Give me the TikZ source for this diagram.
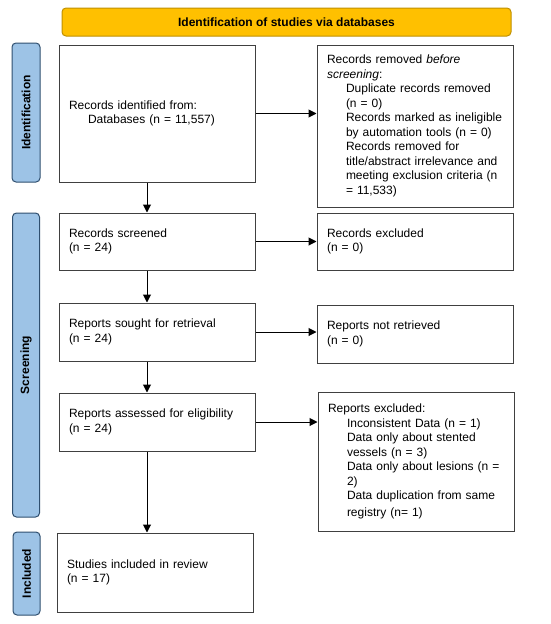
\documentclass[tikz,border=0pt]{standalone}
\usepackage{fontspec}
\setmainfont{Liberation Sans}
\usetikzlibrary{arrows.meta}

\definecolor{bannerfill}{HTML}{FFC000}
\definecolor{bannerline}{HTML}{BF9000}
\definecolor{barfill}{HTML}{9DC3E6}
\definecolor{barline}{HTML}{2F4F6F}
\definecolor{boxline}{HTML}{404040}

\begin{document}
\begin{tikzpicture}[x=1pt, y=-1pt, font=\fontsize{12}{14.5}\selectfont]
        \tikzstyle{box}    = [rectangle, draw=boxline, line width=1pt, minimum width=196pt,
                              text width=176pt, inner xsep=10pt, align=left]
        \tikzstyle{phase}  = [rectangle, rounded corners=4pt, draw=barline, fill=barfill,
                              line width=1pt, inner sep=0pt]
        \tikzstyle{banner} = [rectangle, rounded corners=4pt, draw=bannerline, fill=bannerfill,
                              line width=1pt, minimum width=449pt, minimum height=28pt,
                              font=\fontsize{12}{14.5}\selectfont\bfseries]
        \tikzstyle{arr}    = [-{Triangle[length=8pt, width=8pt]}, line width=1pt, draw=black]
        \useasboundingbox (0,0) rectangle (550,624);

        \node(head)  [banner] at (286.5,22) {Identification of studies via databases};

        \node(idbar) [phase, minimum width=28pt, minimum height=139pt] at (26,112.5)
                     {\rotatebox{90}{\bfseries Identification}};
        \node(scbar) [phase, minimum width=27pt, minimum height=304pt] at (26,365)
                     {\rotatebox{90}{\bfseries Screening}};
        \node(inbar) [phase, minimum width=27pt, minimum height=83pt] at (26.5,573.5)
                     {\rotatebox{90}{\bfseries Included}};

        \node(ident)    [box, minimum height=137pt] at (157,113.5)
                        {Records identified from:\\\hspace*{19pt}Databases (n = 11,557)};
        \node(removed)  [box, minimum height=162pt] at (415,126)
                        {Records removed \emph{before}\\\emph{screening}:\\
                         \hspace*{19pt}Duplicate records removed\\\hspace*{19pt}(n = 0)\\
                         \hspace*{19pt}Records marked as ineligible\\
                         \hspace*{19pt}by automation tools (n = 0)\\
                         \hspace*{19pt}Records removed for\\
                         \hspace*{19pt}title/abstract irrelevance and\\
                         \hspace*{19pt}meeting exclusion criteria (n\\
                         \hspace*{19pt}= 11,533)};
        \node(screened) [box, minimum height=57pt] at (157,241.5) {Records screened\\(n = 24)};
        \node(excluded) [box, minimum height=57pt] at (415,241.5) {Records excluded\\(n = 0)};
        \node(sought)   [box, minimum height=58pt] at (157,332) {Reports sought for retrieval\\(n = 24)};
        \node(notret)   [box, minimum height=58pt] at (415,334) {Reports not retrieved\\(n = 0)};
        \node(assessed) [box, minimum height=58pt] at (157,422) {Reports assessed for eligibility\\(n = 24)};
        \node(repexcl)  [box, minimum height=139pt] at (416,461.5)
                        {Reports excluded:\\
                         \hspace*{19pt}Inconsistent Data (n = 1)\\
                         \hspace*{19pt}Data only about stented\\
                         \hspace*{19pt}vessels (n = 3)\\
                         \hspace*{19pt}Data only about lesions (n =\\
                         \hspace*{19pt}2)\\
                         \hspace*{19pt}Data duplication from same\\[2pt]
                         \hspace*{19pt}registry (n= 1)};
        \node(included) [box, minimum height=79pt] at (155,572.5) {Studies included in review\\(n = 17)};

        \draw[arr] (ident.east) -- (ident.east -| removed.west);
        \draw[arr] (screened) -- (excluded);
        \draw[arr] (sought.east) -- (sought.east -| notret.west);
        \draw[arr] (assessed.east) -- (assessed.east -| repexcl.west);
        \draw[arr] ([xshift=-10pt]ident.south) -- ([xshift=-10pt]ident.south |- screened.north);
        \draw[arr] ([xshift=-10pt]screened.south) -- ([xshift=-10pt]screened.south |- sought.north);
        \draw[arr] ([xshift=-10pt]sought.south) -- ([xshift=-10pt]sought.south |- assessed.north);
        \draw[arr] ([xshift=-10pt]assessed.south) -- ([xshift=-10pt]assessed.south |- included.north);
      \end{tikzpicture}
\end{document}
